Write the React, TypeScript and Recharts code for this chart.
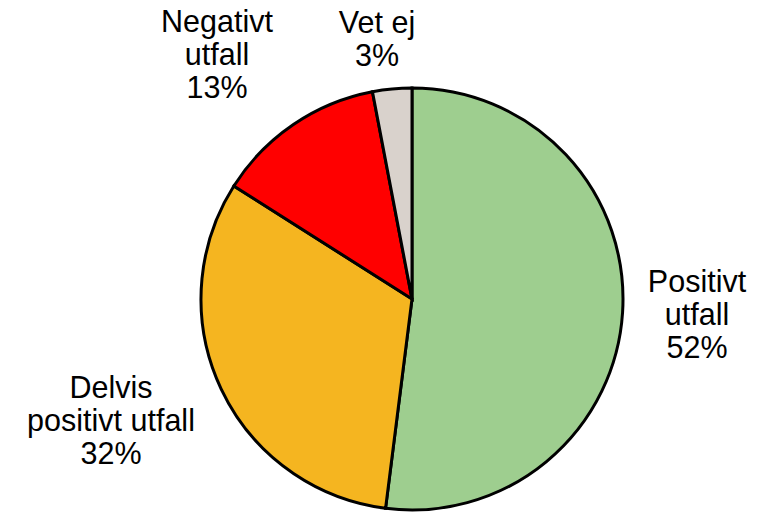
import React from "react";
import { PieChart, Pie, Cell } from "recharts";

const categories = ["Positivt utfall", "Delvis positivt utfall", "Negativt utfall", "Vet ej"];
const values = [52, 32, 13, 3];
const labelLines: string[][] = [
  ["Positivt", "utfall", "52%"],
  ["Delvis", "positivt utfall", "32%"],
  ["Negativt", "utfall", "13%"],
  ["Vet ej", "3%"],
];
const colors = ["#9ECE8F", "#F5B520", "#FF0000", "#D9D2CC"];

// label block placement relative to pie center (dx = block center, dy = first baseline)
const labelOffsets = [
  { dx: 285, dy: -7 },
  { dx: -301, dy: 99 },
  { dx: -195, dy: -267 },
  { dx: -35, dy: -266 },
];

const data = categories.map((name, i) => ({ name, value: values[i] }));

const FONT = "'Liberation Sans', Arial, Helvetica, sans-serif";
const LINE_H = 33;

const renderLabel = (props: any) => {
  const { cx, cy, index } = props;
  const off = labelOffsets[index];
  const lines = labelLines[index];
  const x = cx + off.dx;
  const y = cy + off.dy;
  return (
    <text
      key={`lbl-${index}`}
      x={x}
      y={y}
      textAnchor="middle"
      fill="#000"
      fontFamily={FONT}
      fontSize={30.5}
    >
      {lines.map((t, k) => (
        <tspan key={k} x={x} y={y + k * LINE_H}>
          {t}
        </tspan>
      ))}
    </text>
  );
};

export default function App() {
  return (
    <div style={{ position: "absolute", left: 0, top: 0, width: 764, height: 517, background: "#fff" }}>
      <PieChart width={764} height={517} margin={{ top: 0, right: 0, bottom: 0, left: 0 }}>
        <Pie
          data={data}
          dataKey="value"
          nameKey="name"
          cx={412}
          cy={299}
          outerRadius={211}
          innerRadius={0}
          startAngle={90}
          endAngle={-270}
          stroke="#000"
          strokeWidth={3}
          label={renderLabel}
          labelLine={false}
          isAnimationActive={false}
        >
          {data.map((d, i) => (
            <Cell key={d.name} fill={colors[i]} stroke="#000" strokeWidth={3} />
          ))}
        </Pie>
      </PieChart>
    </div>
  );
}
